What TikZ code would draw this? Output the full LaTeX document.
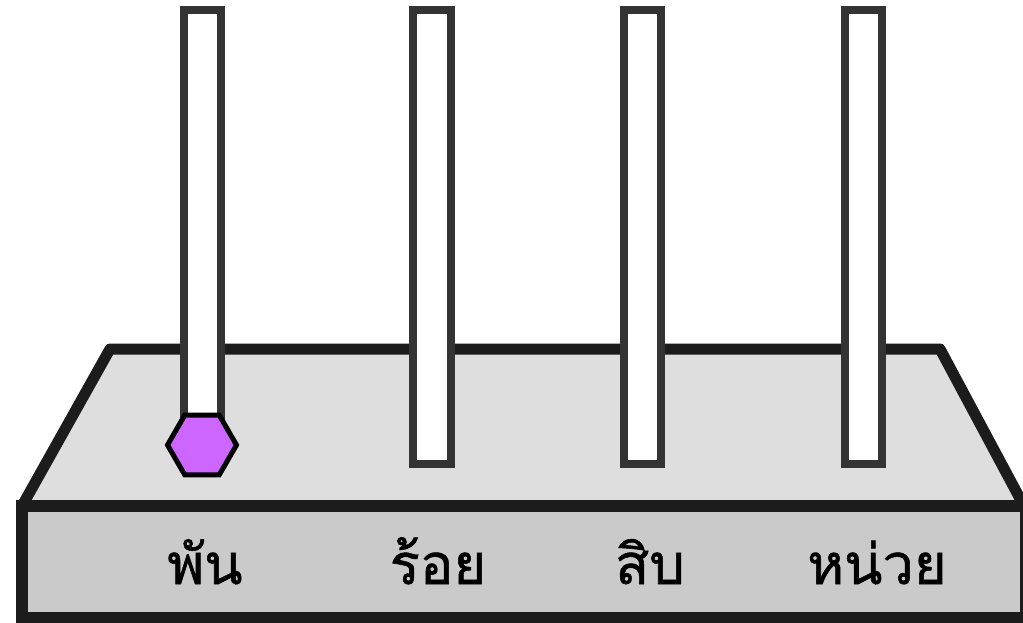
\documentclass[tikz,border=0pt]{standalone}
\usepackage{fontspec}
\newfontfamily\thaifont[Script=Thai, FakeBold=1]{Loma}
\usetikzlibrary{shapes.geometric}
\definecolor{topgray}{HTML}{DEDEDE}
\definecolor{frontgray}{HTML}{CACACA}
\definecolor{rodline}{HTML}{333333}
\definecolor{baseline}{HTML}{1C1C1C}
\definecolor{beadpurple}{HTML}{CC66FF}
\tikzset{
	rod/.style={line width=8pt, draw=rodline, fill=white},
	placelabel/.style={anchor=base, inner sep=0pt, font=\thaifont\fontsize{56}{60}\selectfont}
}

\begin{document}
\begin{tikzpicture}[x=1pt, y=-1pt]
		%%%%% START %%%%%
		\useasboundingbox (0, 0) rectangle (1023, 623);
		
		% base
		\draw[line width=11pt, line join=round, draw=baseline, fill=topgray] (22, 506) -- (110, 349) -- (940, 349) -- (1024, 506) -- cycle;
		\draw[line width=12pt, draw=baseline, fill=frontgray] (22, 506) rectangle (1026, 618);
		
		% rods
		\draw[rod] (184, 10) rectangle (221, 463);
		\draw[rod] (413, 10) rectangle (451, 464);
		\draw[rod] (624, 10) rectangle (661, 464);
		\draw[rod] (845, 10) rectangle (882, 464);
		
		% bead
		\node[regular polygon, regular polygon sides=6, minimum size=69pt, inner sep=0pt, outer sep=0pt,
			line width=5pt, draw=black, fill=beadpurple] (bead) at (202, 445) {};
		
		% labels
		\node[placelabel] (thousands) at (205, 584) {พัน};
		\node[placelabel] (hundreds) at (438, 584) {ร้อย};
		\node[placelabel] (tens) at (650, 584) {สิบ};
		\node[placelabel] (units) at (877, 584) {หน่วย};
		%%%%% END %%%%%
	\end{tikzpicture}
\end{document}
